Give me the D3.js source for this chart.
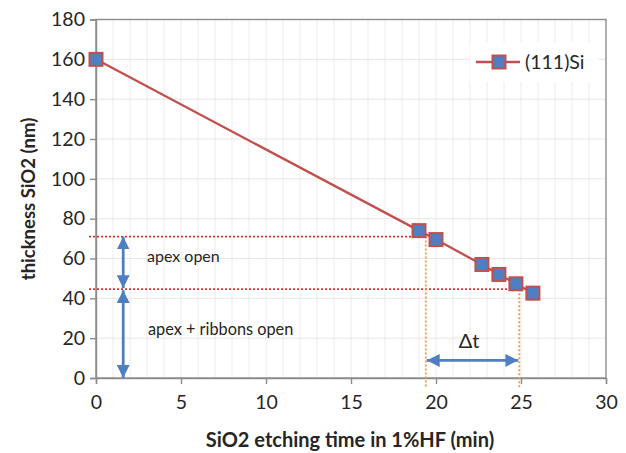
<!DOCTYPE html>
<html>
<head>
<meta charset="utf-8">
<script src="https://cdn.jsdelivr.net/npm/d3@7"></script>
<style>
  body { margin: 0; background: #fff; }
  svg text { font-family: Lato, "Open Sans", sans-serif; }
</style>
</head>
<body>
<svg id="chart" width="626" height="453"></svg>
<script>
// data
const times = [0, 19, 20, 22.7, 23.7, 24.7, 25.7]
const thickness = [160, 74, 69.5, 57, 52, 47.3, 42.6]
const seriesName = "(111)Si"

const xTicks = [0, 5, 10, 15, 20, 25, 30]
const yTicks = [0, 20, 40, 60, 80, 100, 120, 140, 160, 180]

// thresholds marked on the chart
const apexLevel = 71
const ribbonLevel = 44.6
const tStart = 19.4
const tEnd = 24.9
const arrowX = 1.6
const dtArrowY = 8.8

const margin = {left: 96, top: 19.5, right: 20, bottom: 75}
const width = 626, height = 453

const svg = d3.select("#chart")

const x = d3.scaleLinear().domain([0, 30]).range([margin.left, width - margin.right])
const y = d3.scaleLinear().domain([0, 180]).range([height - margin.bottom, margin.top])

const blue = "#4f7fc0"
const red = "#c0504d"

// grid
svg.append("g")
  .selectAll("line")
  .data(d3.range(1, 30))
  .enter().append("line")
  .attr("x1", d => x(d)).attr("x2", d => x(d))
  .attr("y1", y(180)).attr("y2", y(0))
  .style("stroke", "#eeeaea").style("stroke-width", 1)

svg.append("g")
  .selectAll("line")
  .data(yTicks.slice(1))
  .enter().append("line")
  .attr("x1", x(0)).attr("x2", x(30))
  .attr("y1", d => y(d)).attr("y2", d => y(d))
  .style("stroke", "#ebe6e6").style("stroke-width", 1)

// plot frame
svg.append("rect")
  .attr("x", x(0)).attr("y", y(180))
  .attr("width", x(30) - x(0)).attr("height", y(0) - y(180))
  .style("fill", "none").style("stroke", "#8c8c8c").style("stroke-width", 1.4)

// axes
let xAxis = svg.append("g")
  .attr("transform", "translate(0," + y(0) + ")")
  .call(d3.axisBottom(x).tickValues(xTicks).tickSize(6).tickPadding(11))
let yAxis = svg.append("g")
  .attr("transform", "translate(" + x(0) + ",0)")
  .call(d3.axisLeft(y).tickValues(yTicks).tickSize(6).tickPadding(5))

;[xAxis, yAxis].forEach(g => {
  g.select(".domain").style("stroke", "#8c8c8c").style("stroke-width", 1.4)
  g.selectAll(".tick line").style("stroke", "#8c8c8c").style("stroke-width", 1.4)
  g.selectAll(".tick text")
    .style("font-family", "Lato, sans-serif")
    .style("font-size", "19.5px")
    .style("fill", "#262626")
})

// axis titles
svg.append("text")
  .attr("x", 350)
  .attr("y", 447)
  .attr("text-anchor", "middle")
  .style("font-size", "20px")
  .style("font-weight", "bold")
  .style("fill", "#262626")
  .text("SiO2 etching time in 1%HF (min)")

svg.append("text")
  .attr("transform", "translate(35,199) rotate(-90)")
  .attr("text-anchor", "middle")
  .style("font-size", "18.5px")
  .style("font-weight", "bold")
  .style("fill", "#262626")
  .text("thickness SiO2 (nm)")

// threshold lines
svg.append("line")
  .attr("x1", x(0) - 7).attr("x2", x(tStart))
  .attr("y1", y(apexLevel)).attr("y2", y(apexLevel))
  .style("stroke", "#e8302a").style("stroke-width", 1.8).style("stroke-dasharray", "2,2")
svg.append("line")
  .attr("x1", x(0) - 7).attr("x2", x(tEnd))
  .attr("y1", y(ribbonLevel)).attr("y2", y(ribbonLevel))
  .style("stroke", "#e8302a").style("stroke-width", 1.8).style("stroke-dasharray", "2,2")

svg.append("line")
  .attr("x1", x(tStart)).attr("x2", x(tStart))
  .attr("y1", y(apexLevel)).attr("y2", y(0) + 10)
  .style("stroke", "#f79646").style("stroke-width", 1.8).style("stroke-dasharray", "2,2")
svg.append("line")
  .attr("x1", x(tEnd)).attr("x2", x(tEnd))
  .attr("y1", y(ribbonLevel)).attr("y2", y(0) + 10)
  .style("stroke", "#f79646").style("stroke-width", 1.8).style("stroke-dasharray", "2,2")

// double arrows
svg.append("defs").append("marker")
  .attr("id", "head")
  .attr("viewBox", "0 0 10 10")
  .attr("refX", 10).attr("refY", 5)
  .attr("markerWidth", 4.6).attr("markerHeight", 4.6)
  .attr("markerUnits", "strokeWidth")
  .attr("orient", "auto-start-reverse")
  .append("path")
  .attr("d", "M0,0 L10,5 L0,10 Z")
  .style("fill", blue)

function arrow(x1, y1, x2, y2) {
  svg.append("line")
    .attr("x1", x1).attr("y1", y1).attr("x2", x2).attr("y2", y2)
    .style("stroke", blue).style("stroke-width", 2.8)
    .attr("marker-start", "url(#head)")
    .attr("marker-end", "url(#head)")
}
arrow(x(arrowX), y(apexLevel), x(arrowX), y(ribbonLevel) - 1)
arrow(x(arrowX), y(ribbonLevel) + 1, x(arrowX), y(0))
arrow(x(tStart) + 1, y(dtArrowY), x(tEnd) - 1, y(dtArrowY))

svg.append("text")
  .attr("x", 147).attr("y", 262)
  .style("font-size", "16px").style("fill", "#262626")
  .text("apex open")
svg.append("text")
  .attr("x", 148).attr("y", 335)
  .style("font-size", "16.3px").style("fill", "#262626")
  .text("apex + ribbons open")
svg.append("text")
  .attr("x", 469)
  .attr("y", 348)
  .attr("text-anchor", "middle")
  .style("font-size", "20px").style("fill", "#262626")
  .text("Δt")

// series
let line = d3.line()
  .x((d, i) => x(times[i]))
  .y(d => y(d))

svg.append("path")
  .datum(thickness)
  .attr("d", line)
  .style("fill", "none")
  .style("stroke", red)
  .style("stroke-width", 2.3)

svg.selectAll("rect.point")
  .data(thickness)
  .enter().append("rect")
  .attr("class", "point")
  .attr("x", (d, i) => x(times[i]) - 6.5)
  .attr("y", d => y(d) - 6.5)
  .attr("width", 13).attr("height", 13)
  .style("fill", blue)
  .style("stroke", red)
  .style("stroke-width", 2)

// legend
let legend = svg.append("g").attr("transform", "translate(470,42)")
legend.append("rect")
  .attr("width", 128).attr("height", 40)
  .style("fill", "#fff")
legend.append("line")
  .attr("x1", 6).attr("x2", 50).attr("y1", 20).attr("y2", 20)
  .style("stroke", red).style("stroke-width", 2.3)
legend.append("rect")
  .attr("x", 22.5).attr("y", 13.5).attr("width", 13).attr("height", 13)
  .style("fill", blue).style("stroke", red).style("stroke-width", 2)
legend.append("text")
  .attr("x", 55).attr("y", 27)
  .style("font-size", "19.5px").style("fill", "#262626")
  .text(seriesName)
</script>
</body>
</html>
